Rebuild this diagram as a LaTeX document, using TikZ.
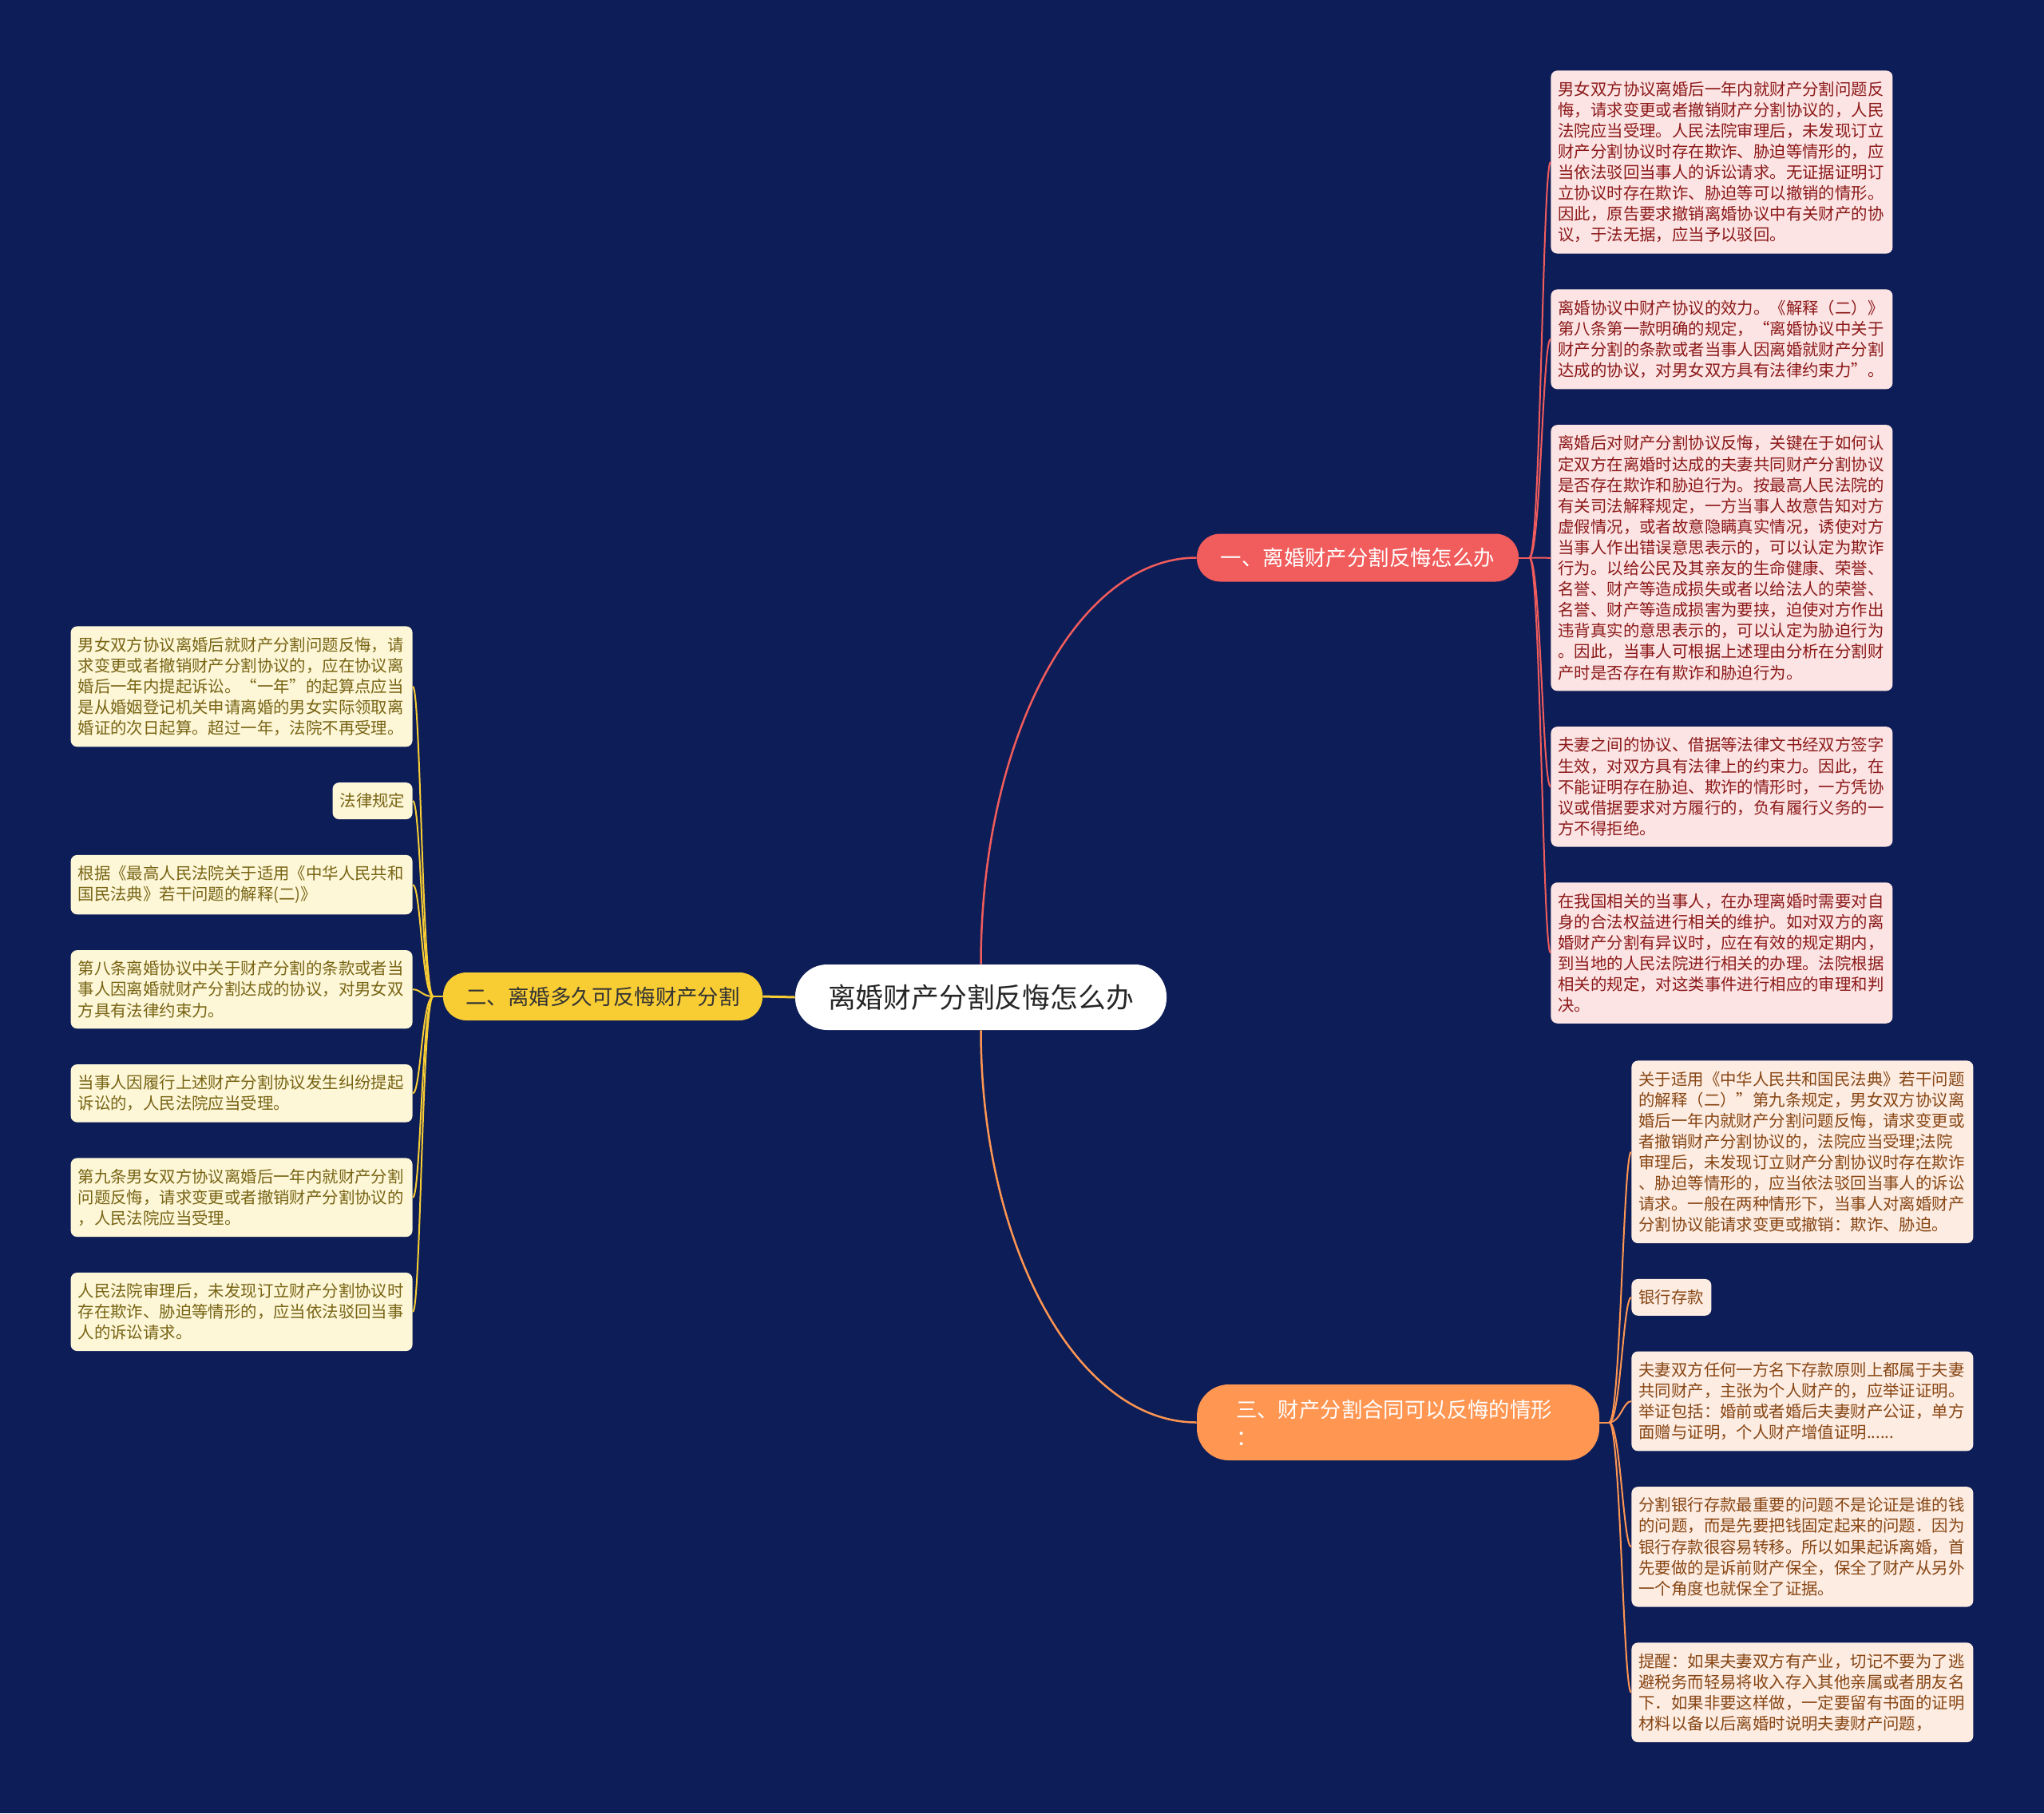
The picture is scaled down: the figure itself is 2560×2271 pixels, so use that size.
\documentclass[tikz,border=0pt]{standalone}
\usepackage{fontspec}
\newfontfamily\cjk{Noto Sans CJK SC}
\usetikzlibrary{positioning}
\definecolor{mapbg}{RGB}{13,29,87}
\definecolor{mapred}{RGB}{241,92,92}
\definecolor{mapyellow}{RGB}{248,205,52}
\definecolor{maporange}{RGB}{255,150,82}
\definecolor{rfill}{RGB}{252,228,228}
\definecolor{rtext}{RGB}{140,25,25}
\definecolor{ofill}{RGB}{253,236,226}
\definecolor{otext}{RGB}{135,70,20}
\definecolor{yfill}{RGB}{253,247,216}
\definecolor{ytext}{RGB}{120,100,20}
\tikzset{
  root/.style={fill=white, rounded corners=20pt, minimum width=232.5pt, minimum height=41pt,
    text=black!85, font=\cjk\fontsize{17.4pt}{21pt}\selectfont},
  branch/.style={rounded corners=14.5pt, minimum height=30pt,
    font=\cjk\fontsize{13.2pt}{17.5pt}\selectfont},
  leaf/.style={rounded corners=4pt, align=left, text width=205pt, inner xsep=4.5pt, inner ysep=6.75pt,
    font=\cjk\fontsize{10.2pt}{13.05pt}\selectfont},
  rleaf/.style={leaf, fill=rfill, text=rtext},
  oleaf/.style={leaf, fill=ofill, text=otext},
  yleaf/.style={leaf, fill=yfill, text=ytext},
  rwire/.style={draw=mapred, line width=1.25pt},
  owire/.style={draw=maporange, line width=1.25pt},
  ywire/.style={draw=mapyellow, line width=1.5pt},
  rlink/.style={draw=mapred, line width=1pt},
  olink/.style={draw=maporange, line width=1pt},
  ylink/.style={draw=mapyellow, line width=1pt}
}
\begin{document}
\begin{tikzpicture}[x=0.5pt, y=-0.5pt, node distance=22pt]
  \fill[mapbg] (0,0) rectangle (2560,2271);

  % centre and the three branches
  \node[root] (root) at (1228.5,1249) {离婚财产分割反悔怎么办};
  \node[branch, fill=mapred, text=white, minimum width=201.5pt] (b1) at (1700.5,698.5) {一、离婚财产分割反悔怎么办};
  \node[branch, fill=mapyellow, text=black!80, minimum width=200pt] (b2) at (755,1248) {二、离婚多久可反悔财产分割};
  \node[branch, fill=maporange, text=white, align=left, text width=203pt, inner xsep=24.5pt,
    minimum height=47.5pt, rounded corners=20pt] (b3) at (1751,1781.5) {三、财产分割合同可以反悔的情形\\：};

  \draw[rwire] (root.north) .. controls +(0,-282) and +(-150,0) .. (b1.west);
  \draw[owire] (root.south) .. controls +(0,270) and +(-150,0) .. (b3.west);
  \draw[ywire] (root.west) -- (b2.east);

  % branch one
  \node[rleaf, anchor=north west] (r1) at (1942,88) {男女双方协议离婚后一年内就财产分割问题反\\悔，请求变更或者撤销财产分割协议的，人民\\法院应当受理。人民法院审理后，未发现订立\\财产分割协议时存在欺诈、胁迫等情形的，应\\当依法驳回当事人的诉讼请求。无证据证明订\\立协议时存在欺诈、胁迫等可以撤销的情形。\\因此，原告要求撤销离婚协议中有关财产的协\\议，于法无据，应当予以驳回。};
  \node[rleaf, below=of r1] (r2) {离婚协议中财产协议的效力。《解释（二）》\\第八条第一款明确的规定，“离婚协议中关于\\财产分割的条款或者当事人因离婚就财产分割\\达成的协议，对男女双方具有法律约束力”。};
  \node[rleaf, below=of r2] (r3) {离婚后对财产分割协议反悔，关键在于如何认\\定双方在离婚时达成的夫妻共同财产分割协议\\是否存在欺诈和胁迫行为。按最高人民法院的\\有关司法解释规定，一方当事人故意告知对方\\虚假情况，或者故意隐瞒真实情况，诱使对方\\当事人作出错误意思表示的，可以认定为欺诈\\行为。以给公民及其亲友的生命健康、荣誉、\\名誉、财产等造成损失或者以给法人的荣誉、\\名誉、财产等造成损害为要挟，迫使对方作出\\违背真实的意思表示的，可以认定为胁迫行为\\。因此，当事人可根据上述理由分析在分割财\\产时是否存在有欺诈和胁迫行为。};
  \node[rleaf, below=of r3] (r4) {夫妻之间的协议、借据等法律文书经双方签字\\生效，对双方具有法律上的约束力。因此，在\\不能证明存在胁迫、欺诈的情形时，一方凭协\\议或借据要求对方履行的，负有履行义务的一\\方不得拒绝。};
  \node[rleaf, below=of r4] (r5) {在我国相关的当事人，在办理离婚时需要对自\\身的合法权益进行相关的维护。如对双方的离\\婚财产分割有异议时，应在有效的规定期内，\\到当地的人民法院进行相关的办理。法院根据\\相关的规定，对这类事件进行相应的审理和判\\决。};

  \coordinate[right=6.5pt of b1] (rj);
  \draw[rlink] (b1.east) -- (rj);
  \draw[rlink] (rj) .. controls +(14,0) and +(-10,0) .. (r1.west);
  \draw[rlink] (rj) .. controls +(14,0) and +(-10,0) .. (r2.west);
  \draw[rlink] (rj) .. controls +(14,0) and +(-10,0) .. (r3.west);
  \draw[rlink] (rj) .. controls +(14,0) and +(-10,0) .. (r4.west);
  \draw[rlink] (rj) .. controls +(14,0) and +(-10,0) .. (r5.west);

  % branch two
  \node[yleaf, anchor=north east] (y1) at (517,784) {男女双方协议离婚后就财产分割问题反悔，请\\求变更或者撤销财产分割协议的，应在协议离\\婚后一年内提起诉讼。“一年”的起算点应当\\是从婚姻登记机关申请离婚的男女实际领取离\\婚证的次日起算。超过一年，法院不再受理。};
  \node[yleaf, text width=41pt, below=of y1.south east, anchor=north east] (y2) {法律规定};
  \node[yleaf, below=of y2.south east, anchor=north east] (y3) {根据《最高人民法院关于适用《中华人民共和\\国民法典》若干问题的解释(二)》};
  \node[yleaf, below=of y3] (y4) {第八条离婚协议中关于财产分割的条款或者当\\事人因离婚就财产分割达成的协议，对男女双\\方具有法律约束力。};
  \node[yleaf, below=of y4] (y5) {当事人因履行上述财产分割协议发生纠纷提起\\诉讼的，人民法院应当受理。};
  \node[yleaf, below=of y5] (y6) {第九条男女双方协议离婚后一年内就财产分割\\问题反悔，请求变更或者撤销财产分割协议的\\，人民法院应当受理。};
  \node[yleaf, below=of y6] (y7) {人民法院审理后，未发现订立财产分割协议时\\存在欺诈、胁迫等情形的，应当依法驳回当事\\人的诉讼请求。};

  \coordinate[left=6pt of b2] (yj);
  \draw[ylink] (b2.west) -- (yj);
  \draw[ylink] (yj) .. controls +(-14,0) and +(10,0) .. (y1.east);
  \draw[ylink] (yj) .. controls +(-14,0) and +(10,0) .. (y2.east);
  \draw[ylink] (yj) .. controls +(-14,0) and +(10,0) .. (y3.east);
  \draw[ylink] (yj) .. controls +(-14,0) and +(10,0) .. (y4.east);
  \draw[ylink] (yj) .. controls +(-14,0) and +(10,0) .. (y5.east);
  \draw[ylink] (yj) .. controls +(-14,0) and +(10,0) .. (y6.east);
  \draw[ylink] (yj) .. controls +(-14,0) and +(10,0) .. (y7.east);

  % branch three
  \node[oleaf, anchor=north west] (o1) at (2043,1328) {关于适用《中华人民共和国民法典》若干问题\\的解释（二）”第九条规定，男女双方协议离\\婚后一年内就财产分割问题反悔，请求变更或\\者撤销财产分割协议的，法院应当受理;法院\\审理后，未发现订立财产分割协议时存在欺诈\\、胁迫等情形的，应当依法驳回当事人的诉讼\\请求。一般在两种情形下，当事人对离婚财产\\分割协议能请求变更或撤销：欺诈、胁迫。};
  \node[oleaf, text width=41pt, below=of o1.south west, anchor=north west] (o2) {银行存款};
  \node[oleaf, below=of o2.south west, anchor=north west] (o3) {夫妻双方任何一方名下存款原则上都属于夫妻\\共同财产，主张为个人财产的，应举证证明。\\举证包括：婚前或者婚后夫妻财产公证，单方\\面赠与证明，个人财产增值证明......};
  \node[oleaf, below=of o3] (o4) {分割银行存款最重要的问题不是论证是谁的钱\\的问题，而是先要把钱固定起来的问题．因为\\银行存款很容易转移。所以如果起诉离婚，首\\先要做的是诉前财产保全，保全了财产从另外\\一个角度也就保全了证据。};
  \node[oleaf, below=of o4] (o5) {提醒：如果夫妻双方有产业，切记不要为了逃\\避税务而轻易将收入存入其他亲属或者朋友名\\下．如果非要这样做，一定要留有书面的证明\\材料以备以后离婚时说明夫妻财产问题，};

  \coordinate[right=6pt of b3] (oj);
  \draw[olink] (b3.east) -- (oj);
  \draw[olink] (oj) .. controls +(14,0) and +(-10,0) .. (o1.west);
  \draw[olink] (oj) .. controls +(14,0) and +(-10,0) .. (o2.west);
  \draw[olink] (oj) .. controls +(14,0) and +(-10,0) .. (o3.west);
  \draw[olink] (oj) .. controls +(14,0) and +(-10,0) .. (o4.west);
  \draw[olink] (oj) .. controls +(14,0) and +(-10,0) .. (o5.west);
\end{tikzpicture}
\end{document}
